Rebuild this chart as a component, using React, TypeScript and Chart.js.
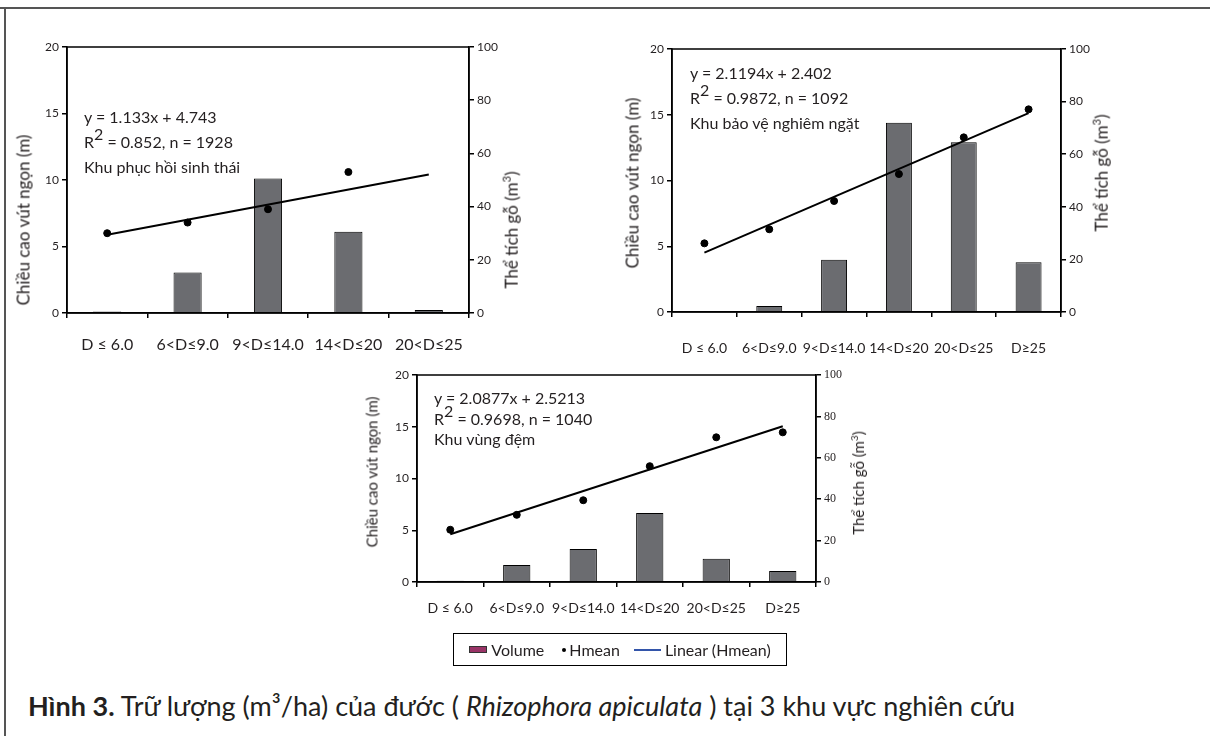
import React, { useEffect, useRef } from "react";
import { Chart, registerables } from "chart.js";

Chart.register(...registerables);

// ---------- data ----------
const labels1 = ["D ≤ 6.0", "6<D≤9.0", "9<D≤14.0", "14<D≤20", "20<D≤25"];
const volume1 = [0.6, 15.2, 50.6, 30.5, 1.1];
const hmean1 = [6.0, 6.8, 7.8, 10.6, null];
const trend1 = [5.88, null, null, null, 10.41];

const labels2 = ["D ≤ 6.0", "6<D≤9.0", "9<D≤14.0", "14<D≤20", "20<D≤25", "D≥25"];
const volume2 = [0, 2.3, 19.9, 72.0, 64.5, 18.9];
const hmean2 = [5.22, 6.29, 8.44, 10.49, 13.28, 15.41];
const trend2 = [4.52, null, null, null, null, 15.12];

const labels3 = ["D ≤ 6.0", "6<D≤9.0", "9<D≤14.0", "14<D≤20", "20<D≤25", "D≥25"];
const volume3 = [0.6, 8.2, 15.9, 33.3, 11.2, 5.3];
const hmean3 = [5.05, 6.49, 7.9, 11.19, 13.98, 14.46];
const trend3 = [4.61, null, null, null, null, 15.05];

const leftTicks = { min: 0, max: 20, step: 5 };
const rightTicks = { min: 0, max: 100, step: 20 };

const FONT = "Lato, 'Noto Sans', sans-serif";
const BAR_COLOR = "#6b6c70";
const TEXT = "#231f20";

const plotBox = {
  id: "plotBox",
  afterDraw(chart: any) {
    const { ctx, chartArea: a } = chart;
    ctx.save();
    ctx.strokeStyle = "#000";
    ctx.lineWidth = 1.5;
    ctx.strokeRect(a.left, a.top, a.right - a.left, a.bottom - a.top);
    ctx.restore();
  },
};

type PanelProps = {
  left: number;
  top: number;
  width: number;
  height: number;
  labels: string[];
  volume: (number | null)[];
  hmean: (number | null)[];
  trend: (number | null)[];
  leftW: number;
  rightW: number;
  padTop: number;
  xH: number;
  xPad: number;
  xFont: number;
  barPct: number;
  rightFont: string;
};

function Panel(p: PanelProps) {
  const ref = useRef<HTMLCanvasElement>(null);
  useEffect(() => {
    const axisCommon = {
      border: { display: true, color: "#000", width: 1.5 },
    };
    const chart = new Chart(ref.current as HTMLCanvasElement, {
      type: "bar",
      data: {
        labels: p.labels,
        datasets: [
          {
            type: "line",
            label: "Hmean",
            data: p.hmean,
            yAxisID: "yL",
            showLine: false,
            pointRadius: 3.5,
            pointBackgroundColor: "#000",
            pointBorderColor: "#000",
            order: 0,
          } as any,
          {
            type: "line",
            label: "Linear (Hmean)",
            data: p.trend,
            yAxisID: "yL",
            spanGaps: true,
            borderColor: "#000",
            borderWidth: 2,
            pointRadius: 0,
            order: 1,
          } as any,
          {
            type: "bar",
            label: "Volume",
            data: p.volume,
            yAxisID: "yR",
            backgroundColor: BAR_COLOR,
            borderColor: "#000",
            borderWidth: 1,
            barPercentage: p.barPct,
            categoryPercentage: 1,
            order: 2,
          } as any,
        ],
      },
      options: {
        animation: false,
        responsive: false,
        events: [],
        layout: { padding: { top: p.padTop, left: 0, right: 0, bottom: 0 } },
        plugins: { legend: { display: false }, tooltip: { enabled: false } },
        scales: {
          x: {
            ...axisCommon,
            type: "category",
            offset: true,
            grid: { offset: true, drawOnChartArea: false, tickLength: 5, color: "#000", lineWidth: 1.5 },
            ticks: { color: TEXT, font: { family: FONT, size: p.xFont }, padding: p.xPad, maxRotation: 0, autoSkip: false },
            afterFit: (s: any) => { s.height = p.xH; },
          },
          yL: {
            ...axisCommon,
            position: "left",
            min: leftTicks.min,
            max: leftTicks.max,
            grid: { drawOnChartArea: false, tickLength: 5, color: "#000", lineWidth: 1.5 },
            ticks: { stepSize: leftTicks.step, color: TEXT, font: { family: FONT, size: 12 }, padding: 3 },
            afterFit: (s: any) => { s.width = p.leftW; },
          },
          yR: {
            ...axisCommon,
            position: "right",
            min: rightTicks.min,
            max: rightTicks.max,
            grid: { drawOnChartArea: false, tickLength: 5, color: "#000", lineWidth: 1.5 },
            ticks: { stepSize: rightTicks.step, color: TEXT, font: { family: p.rightFont, size: 12 }, padding: 3 },
            afterFit: (s: any) => { s.width = p.rightW; },
          },
        },
      } as any,
      plugins: [plotBox],
    });
    return () => chart.destroy();
  }, []);
  return (
    <canvas
      ref={ref}
      width={p.width}
      height={p.height}
      style={{ position: "absolute", left: p.left, top: p.top, width: p.width, height: p.height }}
    />
  );
}

function VTitle({ x, y, size, children }: { x: number; y: number; size: number; children: any }) {
  return (
    <div
      style={{
        position: "absolute",
        left: x,
        top: y,
        transform: "translate(-50%, -50%) rotate(-90deg)",
        whiteSpace: "nowrap",
        fontFamily: FONT,
        fontSize: size,
        color: TEXT,
        lineHeight: 1,
      }}
    >
      {children}
    </div>
  );
}

function Note({ x, y, lh, lines }: { x: number; y: number; lh: number; lines: [string, string, string] }) {
  const base: any = { fontFamily: FONT, fontSize: 16, color: TEXT, lineHeight: lh + "px", whiteSpace: "nowrap" };
  return (
    <div style={{ position: "absolute", left: x, top: y, ...base }}>
      <div>{lines[0]}</div>
      <div>
        R<span style={{ position: "relative", top: -8 }}>2</span>
        {lines[1]}
      </div>
      <div>{lines[2]}</div>
    </div>
  );
}

const m3 = (
  <span>
    Thể tích gỗ (m<sup style={{ fontSize: "0.65em" }}>3</sup>)
  </span>
);

export default function App() {
  return (
    <div
      style={{
        position: "absolute",
        left: 0,
        top: 0,
        width: 1210,
        height: 736,
        background: "#fff",
        overflow: "hidden",
      }}
    >
      {/* frame */}
      <div style={{ position: "absolute", left: 0, top: 7, width: 1210, height: 2, background: "#555" }} />
      <div style={{ position: "absolute", left: 4, top: 7, width: 1.5, height: 729, background: "#555" }} />

      {/* chart 1 */}
      <Panel left={30} top={30} width={470} height={340} labels={labels1} volume={volume1} hmean={hmean1} trend={trend1}
        leftW={37} rightW={31} padTop={17} xH={57} xPad={17} xFont={16} barPct={0.35} rightFont={FONT} />
      <VTitle x={23} y={220} size={17}>Chiều cao vút ngọn (m)</VTitle>
      <VTitle x={510} y={230} size={17}>{m3}</VTitle>
      <Note x={84} y={104} lh={25} lines={["y = 1.133x + 4.743", " = 0.852, n = 1928", "Khu phục hồi sinh thái"]} />

      {/* chart 2 */}
      <Panel left={630} top={30} width={470} height={340} labels={labels2} volume={volume2} hmean={hmean2} trend={trend2}
        leftW={42} rightW={39} padTop={19} xH={58} xPad={23} xFont={14} barPct={0.4} rightFont={FONT} />
      <VTitle x={632} y={183} size={17}>Chiều cao vút ngọn (m)</VTitle>
      <VTitle x={1100} y={173} size={17}>{m3}</VTitle>
      <Note x={690} y={60} lh={25} lines={["y = 2.1194x + 2.402", " = 0.9872, n = 1092", "Khu bảo vệ nghiêm ngặt"]} />

      {/* chart 3 */}
      <Panel left={380} top={355} width={470} height={270} labels={labels3} volume={volume3} hmean={hmean3} trend={trend3}
        leftW={37} rightW={34} padTop={20} xH={43} xPad={13} xFont={14} barPct={0.41} rightFont={"'Liberation Serif', serif"} />
      <VTitle x={372} y={472} size={15}>Chiều cao vút ngọn (m)</VTitle>
      <VTitle x={858} y={483} size={15}>{m3}</VTitle>
      <Note x={434} y={388} lh={20.5} lines={["y = 2.0877x + 2.5213", " = 0.9698, n = 1040", "Khu vùng đệm"]} />

      {/* legend */}
      <div
        style={{
          position: "absolute",
          left: 453,
          top: 633,
          width: 334,
          height: 33,
          boxSizing: "border-box",
          border: "1.5px solid #000",
          display: "flex",
          alignItems: "center",
          justifyContent: "center",
          fontFamily: FONT,
          fontSize: 16,
          color: TEXT,
          whiteSpace: "nowrap",
        }}
      >
        <span style={{ display: "inline-block", width: 16, height: 5, background: "#993366", border: "1px solid #333", marginRight: 4 }} />
        <span>Volume</span>
        <span style={{ display: "inline-block", width: 4, height: 4, borderRadius: 2, background: "#000", marginLeft: 18, marginRight: 3 }} />
        <span>Hmean</span>
        <span style={{ display: "inline-block", width: 27, height: 2, background: "#3355aa", marginLeft: 14, marginRight: 4 }} />
        <span>Linear (Hmean)</span>
      </div>

      {/* caption */}
      <div
        style={{
          position: "absolute",
          left: 28,
          top: 690,
          fontFamily: FONT,
          fontSize: 27,
          lineHeight: "32px",
          color: TEXT,
          whiteSpace: "nowrap",
        }}
      >
        <b>Hình 3.</b> Trữ lượng (m³/ha) của đước ( <i>Rhizophora apiculata</i> ) tại 3 khu vực nghiên cứu
      </div>
    </div>
  );
}
